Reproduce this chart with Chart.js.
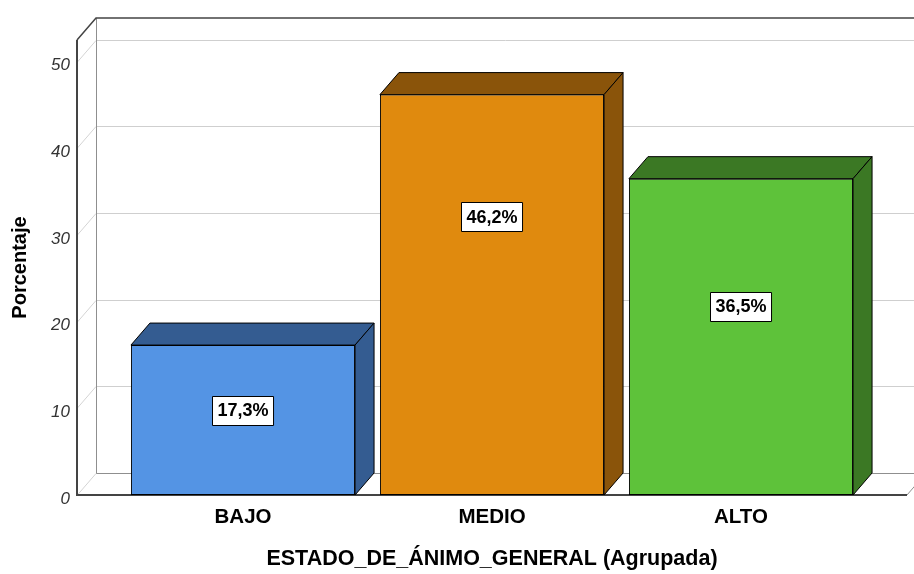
<!DOCTYPE html>
<html>
<head>
<meta charset="utf-8">
<script src="https://cdn.jsdelivr.net/npm/chart.js@4"></script>
<style>
    body { margin: 0; background: #ffffff; }
</style>
</head>
<body>
<canvas id="barChart" width="914" height="574"></canvas>
<script>
// chart data
const categories = ['BAJO', 'MEDIO', 'ALTO'];
const percentages = [17.3, 46.2, 36.5];
const yTickValues = [0, 10, 20, 30, 40, 50];
const labelAt = [9.8, 32.1, 21.8]; // where the value boxes sit, in percent units

const frontColors = ['#5494e4', '#e08a0e', '#5ec23a'];
const darkColors = ['#345c91', '#8a540a', '#3b7824'];

const depthX = 19;  // 3D depth offset
const depthY = -22;
const fontFamily = "'Liberation Sans', Arial, sans-serif";

document.addEventListener('DOMContentLoaded', () => {
    const ctx = document.getElementById('barChart').getContext('2d');

    // walls, floor and grid behind the bars
    const wallsPlugin = {
        id: 'walls',
        beforeDatasetsDraw(chart) {
            const c = chart.ctx;
            const y = chart.scales.y;
            const area = chart.chartArea;
            const L = area.left, R = area.right, T = area.top, B = area.bottom;
            c.save();
            c.lineWidth = 1;
            // grid lines on back wall and side wall
            yTickValues.forEach(v => {
                const py = Math.round(y.getPixelForValue(v)) + 0.5;
                c.strokeStyle = v === 0 ? '#8f8f8f' : '#cfcfcf';
                c.beginPath();
                c.moveTo(L + depthX, py + depthY);
                c.lineTo(R + depthX + 20, py + depthY);
                c.stroke();
                c.strokeStyle = '#d4d4d4';
                c.beginPath();
                c.moveTo(L, py);
                c.lineTo(L + depthX, py + depthY);
                c.stroke();
            });
            // back left edge
            c.strokeStyle = '#8f8f8f';
            c.beginPath();
            c.moveTo(L + depthX + 0.5, T + depthY);
            c.lineTo(L + depthX + 0.5, B + depthY);
            c.stroke();
            // floor right edge
            c.beginPath();
            c.moveTo(R, B);
            c.lineTo(R + depthX, B + depthY);
            c.stroke();
            // top edges
            c.strokeStyle = '#444444';
            c.lineWidth = 1.5;
            c.beginPath();
            c.moveTo(L, T);
            c.lineTo(L + depthX, T + depthY);
            c.lineTo(R + depthX + 20, T + depthY);
            c.stroke();
            // front axis lines
            c.lineWidth = 2;
            c.beginPath();
            c.moveTo(L, T);
            c.lineTo(L, B);
            c.lineTo(R, B);
            c.stroke();
            c.restore();
        },
        afterDatasetsDraw(chart) {
            const c = chart.ctx;
            const meta = chart.getDatasetMeta(0);
            const y = chart.scales.y;
            c.save();
            c.lineWidth = 1;
            c.strokeStyle = '#000000';
            c.lineJoin = 'round';
            meta.data.forEach((bar, i) => {
                const x0 = bar.x - bar.width / 2;
                const x1 = bar.x + bar.width / 2;
                const yt = bar.y;
                const yb = bar.base;
                c.fillStyle = darkColors[i];
                // top face
                c.beginPath();
                c.moveTo(x0, yt);
                c.lineTo(x0 + depthX, yt + depthY);
                c.lineTo(x1 + depthX, yt + depthY);
                c.lineTo(x1, yt);
                c.closePath();
                c.fill();
                c.stroke();
                // side face
                c.beginPath();
                c.moveTo(x1, yt);
                c.lineTo(x1 + depthX, yt + depthY);
                c.lineTo(x1 + depthX, yb + depthY);
                c.lineTo(x1, yb);
                c.closePath();
                c.fill();
                c.stroke();
            });

            // value boxes
            c.font = 'bold 18px ' + fontFamily;
            c.textAlign = 'center';
            c.textBaseline = 'middle';
            meta.data.forEach((bar, i) => {
                const text = percentages[i].toFixed(1).replace('.', ',') + '%';
                const w = c.measureText(text).width + 10;
                const h = 29;
                const cy = y.getPixelForValue(labelAt[i]);
                const bx = Math.round(bar.x - w / 2) + 0.5;
                const by = Math.round(cy - h / 2) + 0.5;
                c.fillStyle = '#ffffff';
                c.fillRect(bx, by, w, h);
                c.strokeStyle = '#000000';
                c.strokeRect(bx, by, w, h);
                c.fillStyle = '#000000';
                c.fillText(text, bar.x, cy + 1);
            });
            c.restore();
        }
    };

    new Chart(ctx, {
        type: 'bar',
        data: {
            datasets: [{
                label: 'Porcentaje',
                data: percentages.map((v, i) => ({ x: i, y: v })),
                backgroundColor: frontColors,
                borderColor: '#000000',
                borderWidth: 1,
                borderSkipped: false,
                categoryPercentage: 1,
                barPercentage: 0.9
            }]
        },
        options: {
            responsive: false,
            animation: false,
            layout: {
                padding: { top: 40, right: 7, left: 0, bottom: 0 }
            },
            plugins: {
                legend: { display: false },
                tooltip: { enabled: false }
            },
            scales: {
                x: {
                    type: 'linear',
                    offset: false,
                    min: -2 / 3,
                    max: 8 / 3,
                    grid: { display: false, drawTicks: false, offset: false },
                    border: { display: false },
                    afterBuildTicks: scale => {
                        scale.ticks = categories.map((c, i) => ({ value: i }));
                    },
                    afterFit: scale => { scale.height = 79; },
                    ticks: {
                        autoSkip: false,
                        maxRotation: 0,
                        padding: 10,
                        color: '#000000',
                        font: { family: fontFamily, size: 20.5, weight: 'bold' },
                        callback: value => categories[value]
                    },
                    title: {
                        display: true,
                        text: 'ESTADO_DE_ÁNIMO_GENERAL (Agrupada)',
                        color: '#000000',
                        font: { family: fontFamily, size: 21.5, weight: 'bold' },
                        padding: { top: 0, bottom: 2 }
                    }
                },
                y: {
                    min: 0,
                    max: 52.5,
                    grid: { display: false, drawTicks: false },
                    border: { display: false },
                    afterBuildTicks: scale => {
                        scale.ticks = yTickValues.map(v => ({ value: v }));
                    },
                    afterFit: scale => { scale.width = 77; },
                    ticks: {
                        padding: 7,
                        labelOffset: 4,
                        color: '#333333',
                        font: { family: fontFamily, size: 17, style: 'italic' }
                    },
                    title: {
                        display: true,
                        text: 'Porcentaje',
                        color: '#000000',
                        font: { family: fontFamily, size: 20, weight: 'bold' },
                        padding: { top: 8, bottom: 0 }
                    }
                }
            }
        },
        plugins: [wallsPlugin]
    });
});
</script>
</body>
</html>
